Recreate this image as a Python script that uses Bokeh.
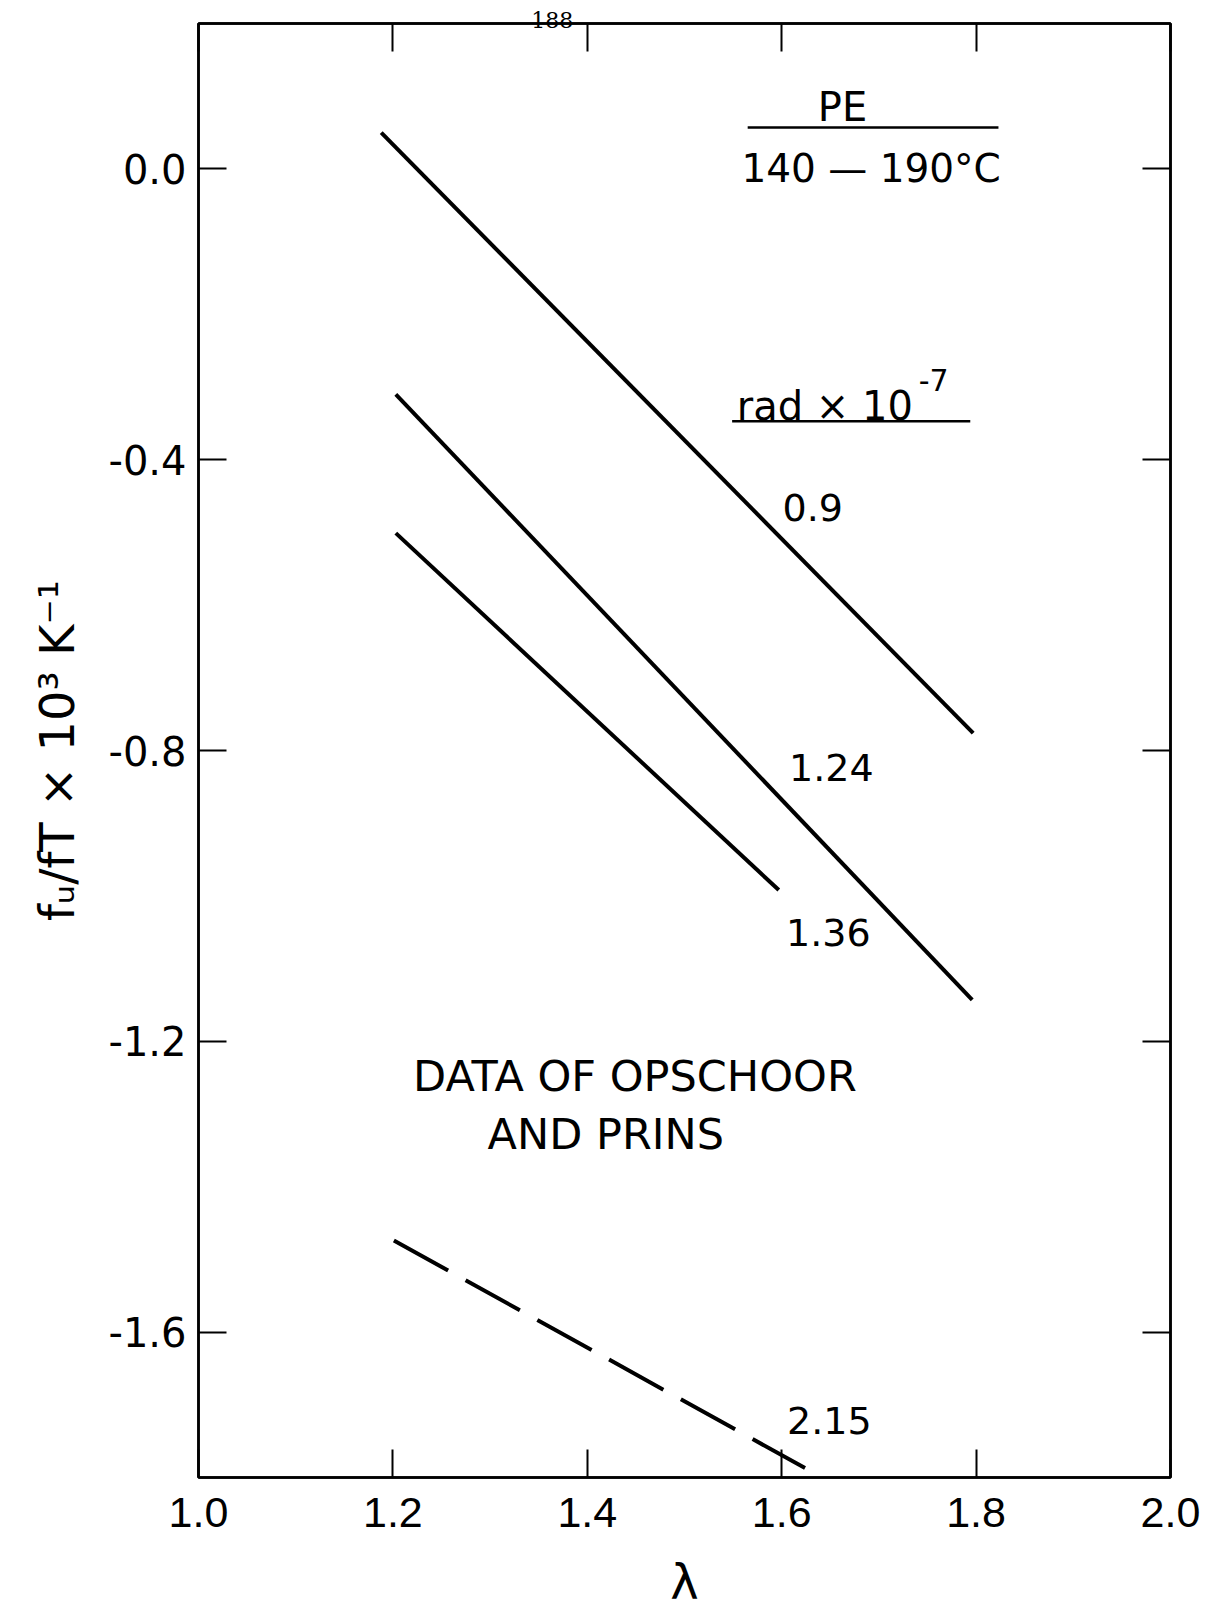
from bokeh.plotting import figure
from bokeh.models import LinearAxis, Label, Range1d, FixedTicker
from bokeh.embed import file_html
from bokeh.resources import INLINE

# ---- data ----
lam_09 = [1.188, 1.797]
f_09 = [0.050, -0.776]
lam_124 = [1.203, 1.796]
f_124 = [-0.310, -1.143]
lam_136 = [1.203, 1.597]
f_136 = [-0.501, -0.992]
lam_215 = [1.201, 1.624]
f_215 = [-1.474, -1.787]

x_ticks = [1.0, 1.2, 1.4, 1.6, 1.8, 2.0]
x_tick_labels = ["1.0", "1.2", "1.4", "1.6", "1.8", "2.0"]
y_ticks = [0.0, -0.4, -0.8, -1.2, -1.6]
y_tick_labels = ["0.0", "-0.4", "-0.8", "-1.2", "-1.6"]
page_ticks = [1.364]
page_labels = ["188"]

SANS = "DejaVu Sans"
XFONT = "Liberation Sans"

p = figure(width=1200, height=1612, output_backend="svg", toolbar_location=None,
           x_range=Range1d(1.0, 2.0), y_range=Range1d(-1.8, 0.2),
           min_border_left=198, min_border_right=30, min_border_top=23, min_border_bottom=133)
p.xgrid.visible = False
p.ygrid.visible = False
p.outline_line_color = "black"
p.outline_line_width = 2.5
p.background_fill_color = "white"
p.border_fill_color = "white"


def style_axis(ax, ticks, labels, show_labels):
    ax.ticker = FixedTicker(ticks=ticks)
    ax.major_label_overrides = {t: l for t, l in zip(ticks, labels)}
    ax.major_tick_in = 28
    ax.major_tick_out = 0
    ax.minor_tick_line_color = None
    ax.major_tick_line_width = 2
    ax.major_tick_line_color = "black"
    ax.axis_line_color = "black"
    ax.axis_line_width = 2.5
    if not show_labels:
        ax.major_label_text_font_size = "1px"
        ax.major_label_text_alpha = 0
        ax.major_label_standoff = 0


xa = p.xaxis[0]
style_axis(xa, x_ticks, x_tick_labels, True)
xa.major_label_text_font = XFONT
xa.major_label_text_font_size = "43px"
xa.major_label_text_color = "black"
xa.major_label_standoff = 20
xa.axis_label = "λ"
xa.axis_label_text_font = SANS
xa.axis_label_text_font_size = "48px"
xa.axis_label_text_font_style = "normal"
xa.axis_label_text_color = "black"
xa.axis_label_standoff = 24

ya = p.yaxis[0]
style_axis(ya, y_ticks, y_tick_labels, True)
ya.major_label_text_font = SANS
ya.major_label_text_font_size = "40px"
ya.major_label_text_color = "black"
ya.major_label_standoff = 12
ya.axis_label = "fᵤ/fT × 10³ K⁻¹"
ya.axis_label_text_font = SANS
ya.axis_label_text_font_size = "48px"
ya.axis_label_text_font_style = "normal"
ya.axis_label_text_color = "black"
ya.axis_label_standoff = 20

top = LinearAxis()
style_axis(top, x_ticks, x_tick_labels, False)
p.add_layout(top, "above")

# page number printed over the top edge
page_axis = LinearAxis()
page_axis.ticker = FixedTicker(ticks=page_ticks)
page_axis.major_label_overrides = {t: l for t, l in zip(page_ticks, page_labels)}
page_axis.major_tick_line_color = None
page_axis.minor_tick_line_color = None
page_axis.axis_line_color = None
page_axis.major_tick_in = 0
page_axis.major_tick_out = 0
page_axis.major_label_standoff = -4
page_axis.major_label_text_font = "DejaVu Serif"
page_axis.major_label_text_font_size = "22px"
page_axis.major_label_text_color = "black"
p.add_layout(page_axis, "above")

right = LinearAxis()
style_axis(right, y_ticks, y_tick_labels, False)
p.add_layout(right, "right")

# ---- curves ----
p.line(lam_09, f_09, line_color="black", line_width=4)
p.line(lam_124, f_124, line_color="black", line_width=4)
p.line(lam_136, f_136, line_color="black", line_width=4)
p.line(lam_215, f_215, line_color="black", line_width=4, line_dash="62 20")


# ---- annotations ----
def txt(x, y, t, size, font=SANS, align="center", baseline="middle"):
    p.add_layout(Label(x=x, y=y, text=t, text_font=font, text_font_size=size,
                       text_align=align, text_baseline=baseline, text_color="black"))


txt(1.6626, 0.0857, "PE", "40px")
txt(1.692, 0.0, "140 — 190°C", "39px")
txt(1.735, -0.3265, "rad × 10", "40px", align="right", baseline="alphabetic")
txt(1.741, -0.290, "-7", "30px", align="left", baseline="alphabetic")
underline_pe = ([1.565, 1.823], [0.057, 0.057])
underline_rad = ([1.549, 1.794], [-0.347, -0.347])
p.line(underline_pe[0], underline_pe[1], line_color="black", line_width=2.5)
p.line(underline_rad[0], underline_rad[1], line_color="black", line_width=2.5)

txt(1.632, -0.466, "0.9", "38px")
txt(1.651, -0.823, "1.24", "38px")
txt(1.648, -1.050, "1.36", "38px")
txt(1.649, -1.722, "2.15", "38px")
txt(1.449, -1.248, "DATA OF OPSCHOOR", "43px")
txt(1.419, -1.328, "AND PRINS", "43px")

open("out.html", "w").write(file_html(p, INLINE))
